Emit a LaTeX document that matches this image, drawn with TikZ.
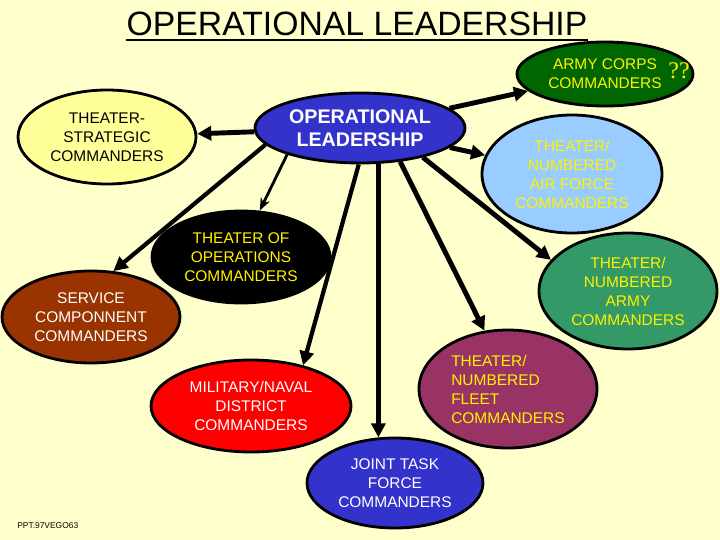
\documentclass[tikz,border=0pt]{standalone}
\usepackage{fontspec}
\setmainfont{Liberation Sans}
\newfontfamily\qfont{Liberation Serif}
\usetikzlibrary{arrows.meta,shapes.geometric}
\definecolor{paper}{RGB}{255,255,204}
\definecolor{corpsgreen}{RGB}{0,102,0}
\definecolor{paleyellow}{RGB}{255,255,153}
\definecolor{royal}{RGB}{51,51,204}
\definecolor{skyblue}{RGB}{153,204,255}
\definecolor{rust}{RGB}{153,51,0}
\definecolor{seagreen}{RGB}{51,153,102}
\definecolor{plum}{RGB}{153,51,102}

\begin{document}
\begin{tikzpicture}[
        cmd/.style={ellipse, draw=black, line width=2pt, inner sep=0pt, align=center,
            font=\fontsize{11}{13.5}\selectfont},
        heavy/.style={-{Triangle[length=10pt,width=10pt]}, line width=3.5pt},
        light/.style={-{Stealth[length=9pt,width=7pt]}, line width=2pt}
    ]
        \useasboundingbox (0,0) rectangle (18,-13.5);
        \fill[paper] (0,0) rectangle (18,-13.5);

        \node[inner sep=0pt, anchor=base, font=\fontsize{24}{28}\selectfont](title) at (8.925,-0.875) {OPERATIONAL LEADERSHIP};
        \draw[line width=1.5pt] ([yshift=-3pt]title.south west) -- ([yshift=-3pt]title.south east);

        \node[cmd, fill=royal, text=white, minimum width=5.25cm, minimum height=1.75cm,
            font=\fontsize{14}{16.5}\selectfont\bfseries](ol) at (9.0,-3.2) {OPERATIONAL\\LEADERSHIP};
        \node[cmd, fill=corpsgreen, text=yellow, minimum width=4.4cm, minimum height=1.6cm](ac) at (15.125,-1.85) {ARMY CORPS\\COMMANDERS};
        \node[text=yellow, inner sep=0pt, font=\qfont\fontsize{17}{17}\selectfont](qq) at (16.975,-1.78) {??};
        \node[cmd, fill=paleyellow, text=black, minimum width=4.45cm, minimum height=2.35cm](ts) at (2.675,-3.425) {THEATER-\\STRATEGIC\\COMMANDERS};
        \node[cmd, fill=skyblue, text=yellow, minimum width=4.5cm, minimum height=2.95cm](af) at (14.3,-4.35) {THEATER/\\NUMBERED\\AIR FORCE\\COMMANDERS};
        \node[cmd, fill=black, text=yellow, minimum width=4.45cm, minimum height=2.3cm](to) at (6.025,-6.425) {THEATER OF\\OPERATIONS\\COMMANDERS};
        \node[cmd, fill=rust, text=white, minimum width=4.45cm, minimum height=2.3cm](sc) at (2.275,-7.925) {SERVICE\\COMPONNENT\\COMMANDERS};
        \node[cmd, fill=seagreen, text=yellow, minimum width=4.45cm, minimum height=2.9cm](na) at (15.7,-7.275) {THEATER/\\NUMBERED\\ARMY\\COMMANDERS};
        \node[cmd, fill=red, text=white, minimum width=5.0cm, minimum height=2.3cm](md) at (6.275,-10.15) {MILITARY/NAVAL\\DISTRICT\\COMMANDERS};
        \node[cmd, fill=plum, text=yellow, minimum width=4.45cm, minimum height=2.95cm, align=left](fl) at (12.7,-9.725) {THEATER/\\NUMBERED\\FLEET\\COMMANDERS};
        \node[cmd, fill=royal, text=white, minimum width=4.4cm, minimum height=2.25cm](jtf) at (9.875,-12.075) {JOINT TASK\\FORCE\\COMMANDERS};
        \node[anchor=west, inner sep=0pt, font=\fontsize{6}{7}\selectfont](ppt) at (0.425,-13.15) {PPT.97VEGO63};

        \path
            (ol) edge [heavy] (ts)
                 edge [heavy] (ac)
                 edge [heavy] (af)
            (ol.200) edge [light] (to.68)
            (ol.190) edge [heavy, line width=3pt] (sc.64)
            (ol.268) edge [heavy, line width=3pt] (md.38)
            (jtf.110 |- ol.south) edge [heavy] (jtf.110)
            (ol.320) edge [heavy] (fl.112)
            (ol.335) edge [heavy] (na.158)
            ;
    \end{tikzpicture}
\end{document}
